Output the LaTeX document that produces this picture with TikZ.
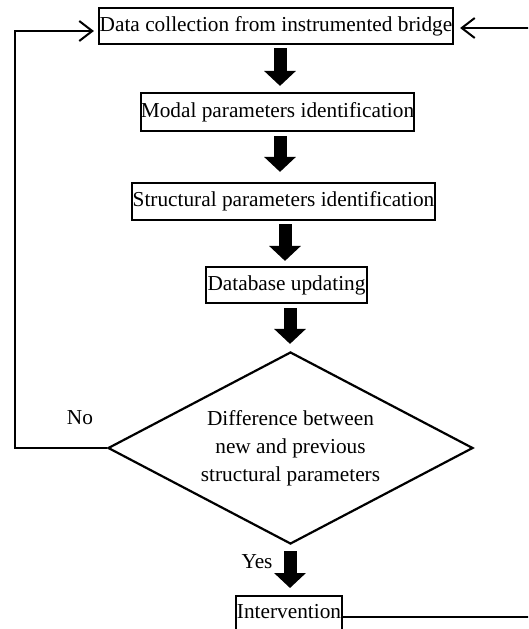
\documentclass[tikz,border=0pt]{standalone}
\usepackage{fontspec}
\setmainfont{Liberation Serif}
\usetikzlibrary{arrows.meta,shapes.geometric,calc}
\begin{document}
\begin{tikzpicture}[x=1pt,y=-1pt,
  every node/.style={font=\fontsize{21.3}{28}\selectfont},
  box/.style={draw,line width=2.2pt,inner sep=0pt,rectangle},
  blk/.style={line width=13pt,-{Triangle[length=15pt,width=31pt]}},
  loopline/.style={line width=2pt,-{Straight Barb[length=13pt,width=20pt,line width=2pt]}},
  plainline/.style={line width=2pt}]
\useasboundingbox (0,0) rectangle (528,629);
\clip (0,0) rectangle (528,629);
\node[box,minimum width=354pt,minimum height=36pt] (top) at (276,26) {Data collection from instrumented bridge};
\node[box,minimum width=273pt,minimum height=38pt] (modal) at (277.5,112) {Modal parameters identification};
\node[box,minimum width=303pt,minimum height=37pt] (struct) at (283.5,201.5) {Structural parameters identification};
\node[box,minimum width=161pt,minimum height=36pt] (db) at (286.5,285) {Database updating};
\node[draw,line width=2.2pt,shape=diamond,aspect=1.9,minimum width=365pt,minimum height=192pt,inner sep=0pt,align=center] (dia) at (290.5,448) {Difference between\\new and previous\\structural parameters};
\node[box,minimum width=106pt,text height=22pt,text depth=25pt,anchor=north] (interv) at (289,595) {Intervention};
\node (no) at (80,418) {No};
\node (yes) at (257,562) {Yes};
\coordinate (lft) at (15,0);
\coordinate (rgt) at (540,0);
% block arrows
\draw[blk] ([xshift=4pt,yshift=-3pt]top.south) -- ([xshift=2.5pt,yshift=6pt]modal.north);
\draw[blk] ([xshift=2.5pt,yshift=-4pt]modal.south) -- ([xshift=-3.5pt,yshift=10pt]struct.north);
\draw[blk] ([xshift=1.5pt,yshift=-3pt]struct.south) -- ([xshift=-1.5pt,yshift=5pt]db.north);
\draw[blk] ([xshift=3.5pt,yshift=-4pt]db.south) -- ([xshift=-0.5pt,yshift=7pt]dia.north);
\draw[blk] ([xshift=-0.5pt,yshift=-6pt]dia.south) -- ([xshift=1pt,yshift=7pt]interv.north);
% loops
\draw[loopline,shorten >=4pt] (dia.west) -- (dia.west -| lft) |- ([yshift=-5pt]top.west);
\draw[loopline,shorten >=6pt] ([yshift=3pt]interv.east) -- ([yshift=3pt]interv.east -| rgt) |- ([yshift=-2pt]top.east);
\end{tikzpicture}
\end{document}
